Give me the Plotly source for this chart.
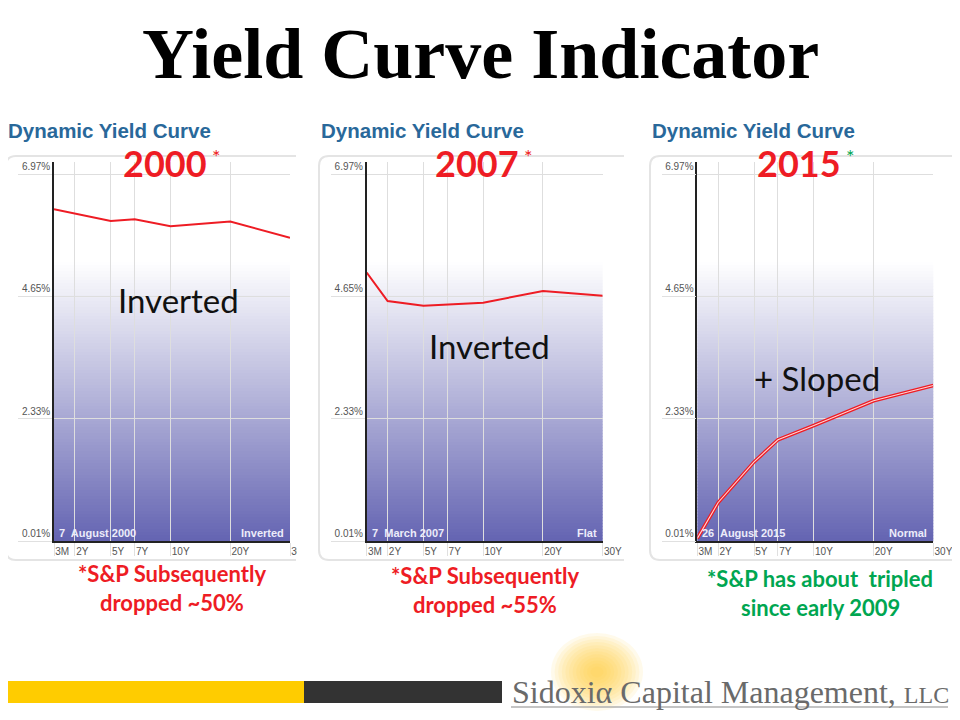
import plotly.graph_objects as go

# ---------------- data ----------------
maturities = ["3M", "2Y", "5Y", "7Y", "10Y", "20Y", "30Y"]
maturity_years = [0.25, 2, 5, 7, 10, 20, 30]
yields_2000 = [6.30, 6.22, 6.08, 6.11, 5.98, 6.07, 5.76]
yields_2007 = [5.10, 4.56, 4.47, 4.49, 4.53, 4.75, 4.66]
yields_2015 = [0.06, 0.74, 1.51, 1.93, 2.20, 2.67, 2.96]
y_tick_values = [0.01, 2.33, 4.65, 6.97]
panel_years = ["2000", "2007", "2015"]
curve_dates = ["7\u00a0 August 2000", "7\u00a0 March 2007", "26\u00a0 August 2015"]
curve_kinds = ["Inverted", "Flat", "Normal"]
big_labels = ["Inverted", "Inverted", "+ Sloped"]
notes = [["*S&P Subsequently", "dropped ~50%"],
         ["*S&P Subsequently", "dropped ~55%"],
         ["*S&P has about\u00a0 tripled", "since early 2009"]]
title_text = "Yield Curve Indicator"
panel_title = "Dynamic Yield Curve"
logo_text = "Sidoxiα Capital Management, <span style='font-size:24px'>LLC</span>"

# ---------------- geometry / style ----------------
# the page places the figure 8px in from the top-left corner, so the figure
# is sized to fill the rest of the 960x720 window and positions are offset.
OFF = 8
W, H = 960 - OFF, 720 - OFF
def px(x): return (x - OFF) / W
def py(y): return 1 - (y - OFF) / H

def axis_pos(yrs):
    # stockcharts-style maturity scale: linear to 10Y, half speed after
    return yrs if yrs <= 10 else 10 + (yrs - 10) / 2

plot_left = [54, 366.7, 697.3]
plot_w = 236
plot_top, plot_bottom = 162, 541
px_per_pct = 52.73
box_lr = [(6, 296), (319, 624), (650, 952)]
red = "#ee1c24"
green = "#00a651"
year_cx = [165, 477, 799]
big_xy = [(178, 300), (489, 346), (817, 378)]
note_cx = [172, 485, 820]
note_y = [(573, 602), (575, 604), (578, 607)]
note_colors = [red, red, green]
star_colors = [red, red, green]

fig = go.Figure()
series = [yields_2000, yields_2007, yields_2015]
shapes = []
annotations = []
xs = [axis_pos(m) for m in maturity_years]
y_top_val = y_tick_values[0] + (plot_bottom - plot_top) / px_per_pct

for i in range(3):
    n = "" if i == 0 else str(i + 1)
    L = plot_left[i]
    fig.update_layout(**{
        f"xaxis{n}": dict(
            domain=[px(L), px(L + plot_w)], range=[axis_pos(0.25), axis_pos(30)],
            anchor=f"y{n}", tickvals=xs, ticktext=maturities, tickangle=0,
            showgrid=True, gridcolor="#dedede", gridwidth=1, zeroline=False,
            showline=True, linecolor="#222", linewidth=1.5,
            ticks="outside", ticklen=13, tickcolor="#e0e0e0", tickwidth=1,
            ticklabelposition="outside right", ticklabelstandoff=0,
            tickfont=dict(family="Liberation Sans", size=10, color="#555"),
            automargin=False, fixedrange=True),
        f"yaxis{n}": dict(
            domain=[py(plot_bottom), py(plot_top)], range=[y_tick_values[0], y_top_val],
            anchor=f"x{n}", tickvals=y_tick_values,
            ticktext=[f"{v:.2f}%" for v in y_tick_values],
            showgrid=True, gridcolor="#dedede", gridwidth=1, zeroline=False,
            showline=True, linecolor="#222", linewidth=1.5,
            ticks="outside", ticklen=34, tickcolor="#e0e0e0", tickwidth=1,
            ticklabelposition="outside top", ticklabelstandoff=0,
            tickfont=dict(family="Liberation Sans", size=10, color="#555"),
            automargin=False, fixedrange=True),
    })
    if i == 2:
        fig.add_trace(go.Scatter(x=xs, y=series[i], mode="lines",
                                 line=dict(color=red, width=3.6),
                                 xaxis=f"x{n}", yaxis=f"y{n}", showlegend=False,
                                 hoverinfo="skip"))
        fig.add_trace(go.Scatter(x=xs, y=series[i], mode="lines",
                                 line=dict(color="#ffd6d6", width=1.1),
                                 xaxis=f"x{n}", yaxis=f"y{n}", showlegend=False,
                                 hoverinfo="skip"))
    else:
        fig.add_trace(go.Scatter(x=xs, y=series[i], mode="lines",
                                 line=dict(color=red, width=2),
                                 xaxis=f"x{n}", yaxis=f"y{n}", showlegend=False,
                                 hoverinfo="skip"))

    # gradient background (white -> purple)
    g_top = 262
    steps = 93
    step = (plot_bottom - g_top) / steps
    for k in range(steps):
        t = (k + 0.5) / steps
        r = round(255 - 155 * t); b = round(255 - 77 * t)
        shapes.append(dict(type="rect", xref=f"x{n} domain", yref="paper",
                           x0=0, x1=1, y0=py(g_top + k * step), y1=py(g_top + (k + 1) * step + 0.6),
                           fillcolor=f"rgb({r},{r},{b})", line=dict(width=0), layer="below"))

    # rounded panel frame (open on the right)
    x0, x1 = box_lr[i]
    t0, b0, rr = 156, 560, 10
    path = (f"M {px(x1)},{py(t0)} L {px(x0 + rr)},{py(t0)} Q {px(x0)},{py(t0)} {px(x0)},{py(t0 + rr)} "
            f"L {px(x0)},{py(b0 - rr)} Q {px(x0)},{py(b0)} {px(x0 + rr)},{py(b0)} L {px(x1)},{py(b0)}")
    shapes.append(dict(type="path", xref="paper", yref="paper", path=path,
                       line=dict(color="#e4e4e4", width=2), layer="below"))

    # panel title
    annotations.append(dict(text=f"<b>{panel_title}</b>", xref="paper", yref="paper",
                            x=px(x0), y=py(131), xanchor="left", yanchor="middle",
                            showarrow=False,
                            font=dict(family="Liberation Sans", size=20.5, color="#29689a")))
    # inner labels
    annotations.append(dict(text=f"<b>{curve_dates[i]}</b>", xref=f"x{n} domain", yref=f"y{n} domain",
                            x=0.012, y=0.0, xanchor="left", yanchor="bottom", showarrow=False,
                            font=dict(family="Liberation Sans", size=11, color="#ececfa")))
    annotations.append(dict(text=f"<b>{curve_kinds[i]}</b>", xref=f"x{n} domain", yref=f"y{n} domain",
                            x=0.983, y=0.0, xanchor="right", yanchor="bottom", showarrow=False,
                            font=dict(family="Liberation Sans", size=11, color="#ececfa")))
    # year label + asterisk
    annotations.append(dict(text=f"<b>{panel_years[i]}</b>", xref="paper", yref="paper",
                            x=px(year_cx[i]), y=py(163), xanchor="center", yanchor="middle",
                            showarrow=False, font=dict(family="Lato", size=36, color=red)))
    annotations.append(dict(text="*", xref="paper", yref="paper",
                            x=px(year_cx[i] + 51), y=py(156), xanchor="center", yanchor="middle",
                            showarrow=False, font=dict(family="Lato", size=20, color=star_colors[i])))
    # big label
    annotations.append(dict(text=big_labels[i], xref="paper", yref="paper",
                            x=px(big_xy[i][0]), y=py(big_xy[i][1]), xanchor="center", yanchor="middle",
                            showarrow=False, font=dict(family="Lato", size=33, color="#111")))
    # notes
    for j in range(2):
        annotations.append(dict(text=f"<b>{notes[i][j]}</b>", xref="paper", yref="paper",
                                x=px(note_cx[i]), y=py(note_y[i][j]), xanchor="center", yanchor="middle",
                                showarrow=False, font=dict(family="Lato", size=22, color=note_colors[i])))

# white covers where the screenshots were cropped
for (a, b) in [(297, 318), (626, 648), (953, 962)]:
    shapes.append(dict(type="rect", xref="paper", yref="paper", x0=px(a), x1=px(b),
                       y0=py(570), y1=py(150), fillcolor="white", line=dict(width=0), layer="above"))

# footer bars
shapes.append(dict(type="rect", xref="paper", yref="paper", x0=px(0), x1=px(304), y0=py(703), y1=py(681),
                   fillcolor="#ffcc00", line=dict(width=0), layer="below"))
shapes.append(dict(type="rect", xref="paper", yref="paper", x0=px(304), x1=px(502), y0=py(703), y1=py(681),
                   fillcolor="#333333", line=dict(width=0), layer="below"))
# glow behind alpha
for k in range(12):
    rad = 46 - k * 3.6
    shapes.append(dict(type="circle", xref="paper", yref="paper",
                       x0=px(597 - rad), x1=px(597 + rad), y0=py(672 + rad * 0.85), y1=py(672 - rad * 0.85),
                       fillcolor="rgba(255,208,60,0.10)", line=dict(width=0), layer="below"))
# logo underline
shapes.append(dict(type="line", xref="paper", yref="paper", x0=px(511), x1=px(948), y0=py(707), y1=py(707),
                   line=dict(color="#b0b0b0", width=1.5), layer="below"))

annotations.append(dict(text=logo_text, xref="paper", yref="paper", x=px(510), y=py(692),
                        xanchor="left", yanchor="middle", showarrow=False,
                        font=dict(family="Liberation Serif", size=32, color="#6a6a6a")))
annotations.append(dict(text=f"<b>{title_text}</b>", xref="paper", yref="paper", x=px(480), y=py(54),
                        xanchor="center", yanchor="middle", showarrow=False,
                        font=dict(family="Liberation Serif", size=72, color="black")))

fig.update_layout(width=W, height=H, margin=dict(l=0, r=0, t=0, b=0, autoexpand=False),
                  paper_bgcolor="white", plot_bgcolor="rgba(0,0,0,0)",
                  shapes=shapes, annotations=annotations, showlegend=False)
fig.write_html("out.html")
